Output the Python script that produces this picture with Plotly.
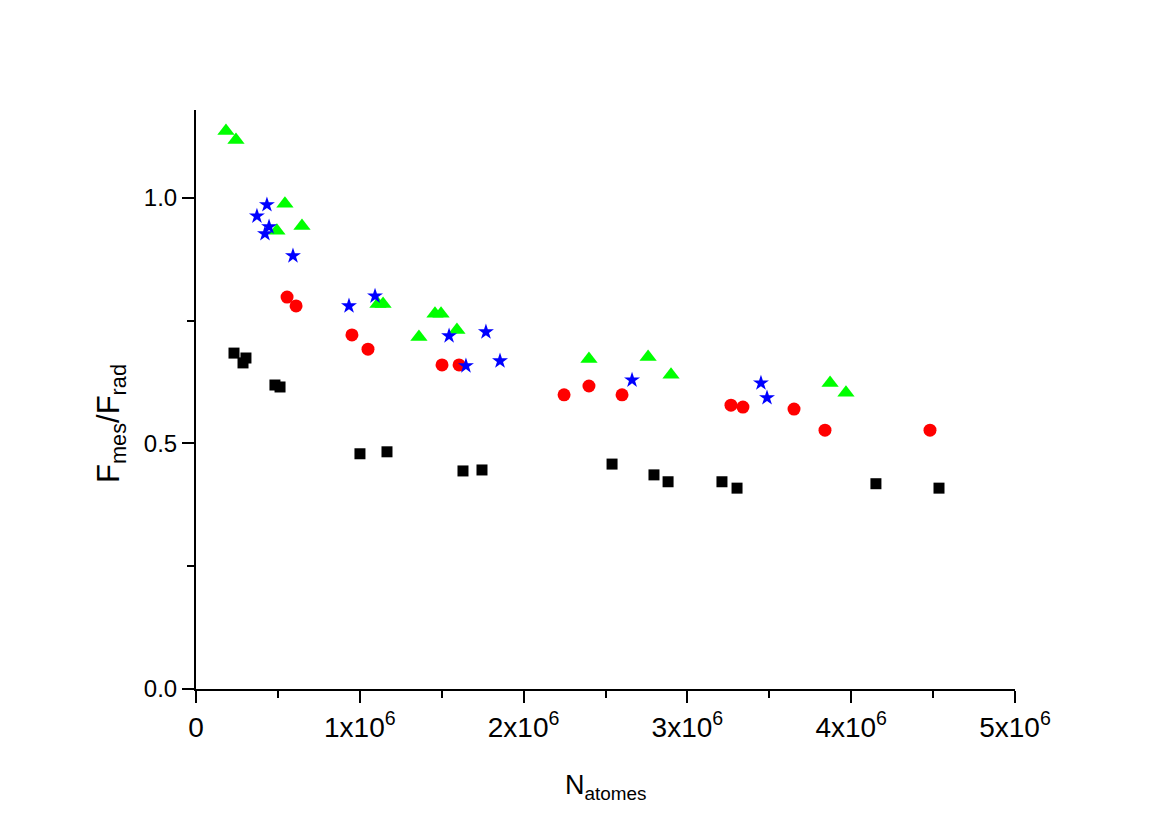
import plotly.graph_objects as go

# carrés noirs
x_noir = [0.232e6, 0.305e6, 0.287e6, 0.482e6, 0.513e6, 1.001e6, 1.166e6, 1.630e6,
          1.746e6, 2.540e6, 2.796e6, 2.882e6, 3.211e6, 3.303e6, 4.151e6, 4.536e6]
y_noir = [0.684, 0.674, 0.664, 0.619, 0.615, 0.479, 0.483, 0.444,
          0.446, 0.458, 0.436, 0.422, 0.422, 0.409, 0.418, 0.409]

# cercles rouges
x_rouge = [0.556e6, 0.611e6, 0.952e6, 1.050e6, 1.502e6, 1.606e6, 2.247e6,
           2.399e6, 2.601e6, 3.266e6, 3.339e6, 3.651e6, 3.840e6, 4.481e6]
y_rouge = [0.798, 0.780, 0.721, 0.692, 0.660, 0.660, 0.599,
           0.617, 0.599, 0.578, 0.574, 0.570, 0.527, 0.527]

# triangles verts
x_vert = [0.183e6, 0.244e6, 0.543e6, 0.494e6, 0.647e6, 1.111e6, 1.142e6, 1.361e6,
          1.459e6, 1.496e6, 1.593e6, 2.399e6, 2.760e6, 2.900e6, 3.871e6, 3.968e6]
y_vert = [1.136, 1.118, 0.988, 0.933, 0.943, 0.784, 0.784, 0.717,
          0.764, 0.764, 0.731, 0.672, 0.676, 0.640, 0.623, 0.603]

# étoiles bleues
x_bleu = [0.433e6, 0.372e6, 0.446e6, 0.421e6, 0.592e6, 0.934e6, 1.093e6,
          1.545e6, 1.770e6, 1.648e6, 1.856e6, 2.662e6, 3.449e6, 3.486e6]
y_bleu = [0.986, 0.963, 0.941, 0.927, 0.882, 0.780, 0.800,
          0.719, 0.727, 0.658, 0.668, 0.629, 0.623, 0.593]

x_ticks = [0, 1e6, 2e6, 3e6, 4e6, 5e6]
x_ticktext = ["0", "1x10<sup>6</sup>", "2x10<sup>6</sup>", "3x10<sup>6</sup>",
              "4x10<sup>6</sup>", "5x10<sup>6</sup>"]
x_minor = [0.5e6, 1.5e6, 2.5e6, 3.5e6, 4.5e6]

police = "Liberation Sans, Arial, sans-serif"

fig = go.Figure()
fig.add_trace(go.Scatter(x=x_noir, y=y_noir, mode="markers",
                         marker=dict(symbol="square", size=11, color="#000000", line_width=0)))
fig.add_trace(go.Scatter(x=x_rouge, y=y_rouge, mode="markers",
                         marker=dict(symbol="circle", size=13, color="#ff0000", line_width=0)))
fig.add_trace(go.Scatter(x=x_vert, y=y_vert, mode="markers",
                         marker=dict(symbol="triangle-up", size=15, color="#00ff00", line_width=0)))
fig.add_trace(go.Scatter(x=x_bleu, y=y_bleu, mode="markers",
                         marker=dict(symbol="star", size=12, color="#0000ff", line_width=0)))

# la page html a une marge de 8px autour du graphique
fig.update_layout(
    width=1162, height=819,
    margin=dict(l=188, r=155, t=102, b=138),
    paper_bgcolor="white", plot_bgcolor="white",
    showlegend=False,
    font=dict(family=police, color="black"),
)

fig.update_xaxes(
    range=[0, 5e6], showgrid=False, zeroline=False,
    showline=True, linecolor="black", linewidth=2,
    ticks="outside", ticklen=12, tickwidth=2, tickcolor="black",
    tickvals=x_ticks, ticktext=x_ticktext,
    tickfont=dict(size=28, family=police),
    minor=dict(tickvals=x_minor, ticks="outside", ticklen=7, tickwidth=2, tickcolor="black"),
)
fig.update_yaxes(
    range=[0, 1.179], showgrid=False, zeroline=False,
    showline=True, linecolor="black", linewidth=2,
    ticks="outside", ticklen=12, tickwidth=2, tickcolor="black",
    tick0=0, dtick=0.5, tickformat=".1f",
    tickfont=dict(size=24, family=police),
    minor=dict(dtick=0.25, ticks="outside", ticklen=7, tickwidth=2, tickcolor="black"),
)

# titres des axes
fig.add_annotation(text="F<sub>mes</sub>/F<sub>rad</sub>", textangle=-90,
                   xref="paper", yref="paper", x=-0.103, y=0.459,
                   xanchor="center", yanchor="middle", showarrow=False,
                   font=dict(size=31, family=police))
fig.add_annotation(text="N<sub>atomes</sub>",
                   xref="paper", yref="paper", x=0.5, y=-0.169,
                   xanchor="center", yanchor="middle", showarrow=False,
                   font=dict(size=27, family=police))

fig.write_html("out.html")
